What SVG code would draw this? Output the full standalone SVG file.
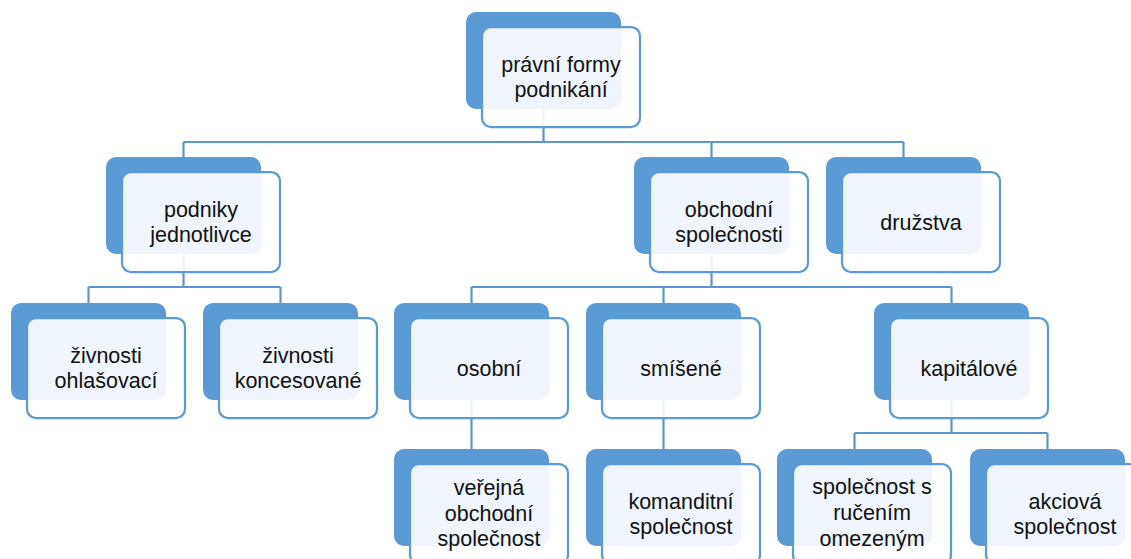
<svg xmlns="http://www.w3.org/2000/svg" width="1131" height="559" viewBox="0 0 1131 559">
<style>
.bk{fill:#5B9BD5;}
.fr{fill:#FFFFFF;fill-opacity:0.9;stroke:#5B9BD5;stroke-width:2.25;}
.t{font-family:"Liberation Sans",Arial,sans-serif;font-size:21.5px;fill:#111111;text-anchor:middle;}
.c{fill:none;stroke:#5B96D0;stroke-width:2.2;}
</style>
<rect width="1131" height="559" fill="#FFFFFF"/>
<g id="connectors">
<path class="c" d="M543.5 109V142M183.5 142H903.5M183.5 142V157M711.5 142V157M903.5 142V157"/>
<path class="c" d="M183.5 254V287M88.5 287H280.5M88.5 287V303M280.5 287V303"/>
<path class="c" d="M711.5 254V287M471.5 287H951.5M471.5 287V303M663.5 287V303M951.5 287V303"/>
<path class="c" d="M471.5 400V449M663.5 400V449"/>
<path class="c" d="M951.5 400V433M854.5 433H1047.5M854.5 433V449M1047.5 433V449"/>
</g>
<g id="n0"><rect class="bk" x="466" y="12" width="155" height="97" rx="10"/><rect class="fr" x="482" y="27" width="158" height="100" rx="9"/><text class="t" x="561" y="71.5">právní formy</text><text class="t" x="561" y="96.5">podnikání</text></g>
<g id="n1"><rect class="bk" x="106" y="157" width="155" height="97" rx="10"/><rect class="fr" x="122" y="172" width="158" height="100" rx="9"/><text class="t" x="201" y="216.5">podniky</text><text class="t" x="201" y="241.5">jednotlivce</text></g>
<g id="n2"><rect class="bk" x="634" y="157" width="155" height="97" rx="10"/><rect class="fr" x="650" y="172" width="158" height="100" rx="9"/><text class="t" x="729" y="216.5">obchodní</text><text class="t" x="729" y="241.5">společnosti</text></g>
<g id="n3"><rect class="bk" x="826" y="157" width="155" height="97" rx="10"/><rect class="fr" x="842" y="172" width="158" height="100" rx="9"/><text class="t" x="921" y="230">družstva</text></g>
<g id="n4"><rect class="bk" x="11" y="303" width="155" height="97" rx="10"/><rect class="fr" x="27" y="318" width="158" height="100" rx="9"/><text class="t" x="106" y="362.5">živnosti</text><text class="t" x="106" y="387.5">ohlašovací</text></g>
<g id="n5"><rect class="bk" x="203" y="303" width="155" height="97" rx="10"/><rect class="fr" x="219" y="318" width="158" height="100" rx="9"/><text class="t" x="298" y="362.5">živnosti</text><text class="t" x="298" y="387.5">koncesované</text></g>
<g id="n6"><rect class="bk" x="394" y="303" width="155" height="97" rx="10"/><rect class="fr" x="410" y="318" width="158" height="100" rx="9"/><text class="t" x="489" y="376">osobní</text></g>
<g id="n7"><rect class="bk" x="586" y="303" width="155" height="97" rx="10"/><rect class="fr" x="602" y="318" width="158" height="100" rx="9"/><text class="t" x="681" y="376">smíšené</text></g>
<g id="n8"><rect class="bk" x="874" y="303" width="155" height="97" rx="10"/><rect class="fr" x="890" y="318" width="158" height="100" rx="9"/><text class="t" x="969" y="376">kapitálové</text></g>
<g id="n9"><rect class="bk" x="394" y="449" width="155" height="97" rx="10"/><rect class="fr" x="410" y="464" width="158" height="100" rx="9"/><text class="t" x="489" y="495">veřejná</text><text class="t" x="489" y="520.5">obchodní</text><text class="t" x="489" y="546">společnost</text></g>
<g id="n10"><rect class="bk" x="586" y="449" width="155" height="97" rx="10"/><rect class="fr" x="602" y="464" width="158" height="100" rx="9"/><text class="t" x="681" y="508.5">komanditní</text><text class="t" x="681" y="533.5">společnost</text></g>
<g id="n11"><rect class="bk" x="777" y="449" width="155" height="97" rx="10"/><rect class="fr" x="793" y="464" width="158" height="100" rx="9"/><text class="t" x="872" y="494">společnost s</text><text class="t" x="872" y="520">ručením</text><text class="t" x="872" y="545.5">omezeným</text></g>
<g id="n12"><rect class="bk" x="970" y="449" width="155" height="97" rx="10"/><rect class="fr" x="986" y="464" width="158" height="100" rx="9"/><text class="t" x="1065" y="508.5">akciová</text><text class="t" x="1065" y="533.5">společnost</text></g>
</svg>
